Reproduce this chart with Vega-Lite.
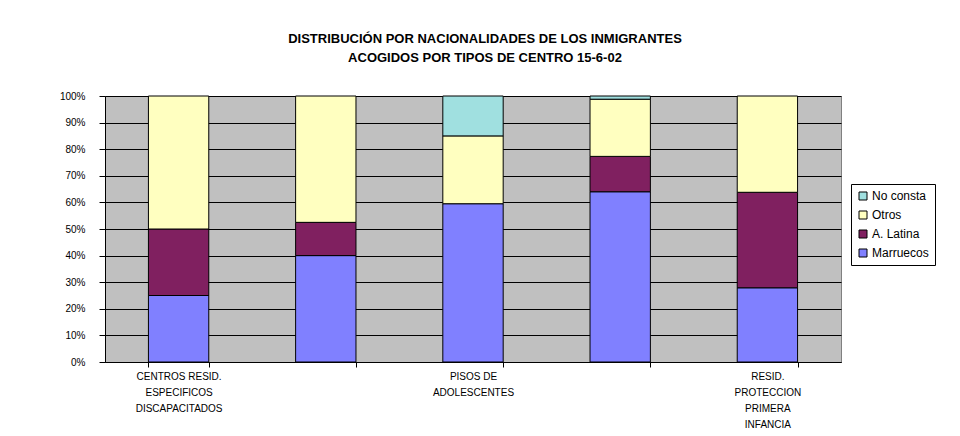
{
  "$schema": "https://vega.github.io/schema/vega-lite/v6.json",
  "width": 736,
  "height": 266,
  "autosize": {"type": "none"},
  "padding": {"left": 105, "top": 96, "right": 119, "bottom": 74},
  "background": "white",
  "title": {
    "text": ["DISTRIBUCIÓN POR NACIONALIDADES DE LOS INMIGRANTES", "ACOGIDOS POR TIPOS DE CENTRO 15-6-02"],
    "font": "Liberation Sans",
    "fontSize": 13,
    "fontWeight": "bold",
    "lineHeight": 19,
    "anchor": "middle",
    "offset": 26,
    "dx": 12,
    "color": "black"
  },
  "data": {
    "values": [
      {"centro": "CENTROS RESID. ESPECIFICOS DISCAPACITADOS", "nacionalidad": "Marruecos", "orden": 1, "porcentaje": 25},
      {"centro": "CENTROS RESID. ESPECIFICOS DISCAPACITADOS", "nacionalidad": "A. Latina", "orden": 2, "porcentaje": 25},
      {"centro": "CENTROS RESID. ESPECIFICOS DISCAPACITADOS", "nacionalidad": "Otros", "orden": 3, "porcentaje": 50},
      {"centro": "Tipo 2", "nacionalidad": "Marruecos", "orden": 1, "porcentaje": 40},
      {"centro": "Tipo 2", "nacionalidad": "A. Latina", "orden": 2, "porcentaje": 12.5},
      {"centro": "Tipo 2", "nacionalidad": "Otros", "orden": 3, "porcentaje": 47.5},
      {"centro": "PISOS DE ADOLESCENTES", "nacionalidad": "Marruecos", "orden": 1, "porcentaje": 59.5},
      {"centro": "PISOS DE ADOLESCENTES", "nacionalidad": "Otros", "orden": 3, "porcentaje": 25.5},
      {"centro": "PISOS DE ADOLESCENTES", "nacionalidad": "No consta", "orden": 4, "porcentaje": 15},
      {"centro": "Tipo 4", "nacionalidad": "Marruecos", "orden": 1, "porcentaje": 64},
      {"centro": "Tipo 4", "nacionalidad": "A. Latina", "orden": 2, "porcentaje": 13.3},
      {"centro": "Tipo 4", "nacionalidad": "Otros", "orden": 3, "porcentaje": 21.5},
      {"centro": "Tipo 4", "nacionalidad": "No consta", "orden": 4, "porcentaje": 1.2},
      {"centro": "RESID. PROTECCION PRIMERA INFANCIA", "nacionalidad": "Marruecos", "orden": 1, "porcentaje": 27.9},
      {"centro": "RESID. PROTECCION PRIMERA INFANCIA", "nacionalidad": "A. Latina", "orden": 2, "porcentaje": 35.9},
      {"centro": "RESID. PROTECCION PRIMERA INFANCIA", "nacionalidad": "Otros", "orden": 3, "porcentaje": 36.2}
    ]
  },
  "mark": {"type": "bar", "stroke": "black", "strokeWidth": 1},
  "encoding": {
    "x": {
      "field": "centro",
      "type": "nominal",
      "sort": null,
      "scale": {"paddingInner": 0.59, "paddingOuter": 0.295},
      "axis": {
        "title": null,
        "domainColor": "black",
        "tickColor": "black",
        "tickBand": "extent",
        "tickSize": 5,
        "labelAngle": 0,
        "labelFont": "Liberation Sans",
        "labelFontSize": 10,
        "labelColor": "black",
        "labelLineHeight": 16,
        "labelPadding": 4,
        "labelLimit": 300,
        "labelBaseline": "top",
        "labelExpr": "datum.value == 'CENTROS RESID. ESPECIFICOS DISCAPACITADOS' ? ['CENTROS RESID.', 'ESPECIFICOS', 'DISCAPACITADOS'] : datum.value == 'PISOS DE ADOLESCENTES' ? ['PISOS DE', 'ADOLESCENTES'] : datum.value == 'RESID. PROTECCION PRIMERA INFANCIA' ? ['RESID.', 'PROTECCION', 'PRIMERA', 'INFANCIA'] : ''"
      }
    },
    "y": {
      "field": "porcentaje",
      "type": "quantitative",
      "stack": "normalize",
      "scale": {"domain": [0, 1], "nice": false},
      "axis": {
        "title": null,
        "values": [0, 0.1, 0.2, 0.3, 0.4, 0.5, 0.6, 0.7, 0.8, 0.9, 1],
        "format": ".0%",
        "grid": true,
        "gridColor": "black",
        "gridOpacity": 1,
        "gridWidth": 1,
        "domainColor": "black",
        "tickColor": "black",
        "tickSize": 6,
        "labelFont": "Liberation Sans",
        "labelFontSize": 10,
        "labelColor": "black",
        "labelPadding": 14
      }
    },
    "color": {
      "field": "nacionalidad",
      "type": "nominal",
      "scale": {
        "domain": ["No consta", "Otros", "A. Latina", "Marruecos"],
        "range": ["#A0E0E0", "#FFFFC0", "#802060", "#8080FF"]
      },
      "legend": {
        "orient": "none",
        "legendX": 746,
        "legendY": 88,
        "title": null,
        "strokeColor": "black",
        "fillColor": "white",
        "padding": 6,
        "symbolType": "square",
        "symbolSize": 64,
        "symbolStrokeColor": "black",
        "symbolStrokeWidth": 1,
        "symbolOpacity": 1,
        "labelFont": "Liberation Sans",
        "labelFontSize": 12,
        "labelColor": "black",
        "labelOffset": 3,
        "rowPadding": 7
      }
    },
    "order": {"field": "orden", "type": "quantitative"}
  },
  "config": {
    "view": {"fill": "#C0C0C0", "stroke": "#808080"},
    "bar": {"opacity": 1}
  }
}
